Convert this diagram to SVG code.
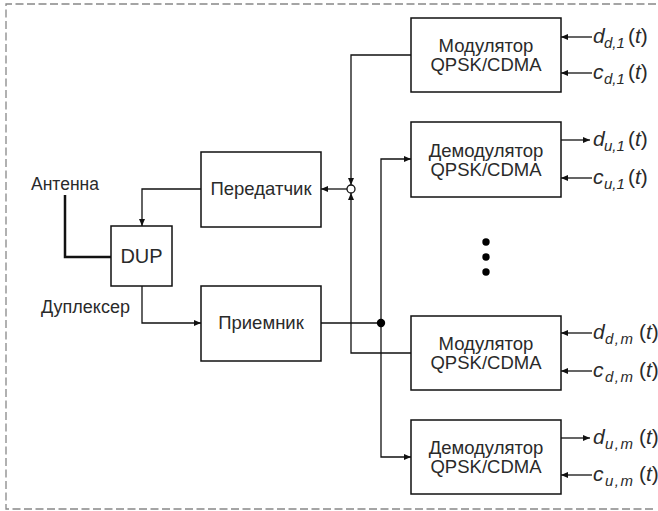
<svg xmlns="http://www.w3.org/2000/svg" width="658" height="511" viewBox="0 0 658 511">
<style>
.box{fill:#fff;stroke:#111;stroke-width:1.5}
.ln{fill:none;stroke:#111;stroke-width:1.3}
.ar{fill:none;stroke:#111;stroke-width:1.3;marker-end:url(#ah)}
.t{font-family:"Liberation Sans",Arial,sans-serif;font-size:18.5px;fill:#2a2a2a;text-anchor:middle}
.lb{font-family:"Liberation Sans",Arial,sans-serif;font-size:18px;fill:#2a2a2a}
.sig{font-family:"Liberation Sans",Arial,sans-serif;font-size:21px;fill:#2a2a2a;font-style:italic}
.sub{font-size:15px}
.up{font-style:normal}
</style>
<defs>
<marker id="ah" markerUnits="userSpaceOnUse" markerWidth="8" markerHeight="6" refX="7" refY="3" orient="auto">
<path d="M0,0 L7,3 L0,6 z" fill="#111"/>
</marker>
</defs>
<path d="M656,4 H6 V509 H656" fill="none" stroke="#888" stroke-width="1.3" stroke-dasharray="8,3.5"/>

<g id="antenna">
<text class="lb" x="31" y="190" style="font-size:17.5px">Антенна</text>
<path d="M65,195 V257 H111" fill="none" stroke="#111" stroke-width="2.5"/>
</g>
<g id="dup">
<rect class="box" x="111" y="226" width="61" height="60"/>
<text class="t" x="141.5" y="263" style="font-size:20px">DUP</text>
<text class="lb" x="41" y="313">Дуплексер</text>
</g>
<g id="tx">
<rect class="box" x="201" y="152" width="120" height="75"/>
<text class="t" x="261" y="195">Передатчик</text>
</g>
<g id="rx">
<rect class="box" x="201" y="286" width="120" height="75"/>
<text class="t" x="261" y="329">Приемник</text>
</g>
<g id="mod1">
<rect class="box" x="411" y="18" width="150" height="74"/>
<text class="t" x="486" y="52">Модулятор</text>
<text class="t" x="486" y="71">QPSK/CDMA</text>
</g>
<g id="demod1">
<rect class="box" x="411" y="122" width="150" height="75"/>
<text class="t" x="486" y="157">Демодулятор</text>
<text class="t" x="486" y="176">QPSK/CDMA</text>
</g>
<g id="modm">
<rect class="box" x="411" y="316" width="150" height="74"/>
<text class="t" x="486" y="350">Модулятор</text>
<text class="t" x="486" y="369">QPSK/CDMA</text>
</g>
<g id="demodm">
<rect class="box" x="411" y="420" width="150" height="74"/>
<text class="t" x="486" y="454">Демодулятор</text>
<text class="t" x="486" y="473">QPSK/CDMA</text>
</g>
<g id="ellipsis" fill="#000">
<circle cx="486" cy="242" r="3.7"/>
<circle cx="486" cy="257" r="3.7"/>
<circle cx="486" cy="272" r="3.7"/>
</g>

<g id="connectors">
<path class="ar" d="M201,189 H142 V226"/>
<path class="ar" d="M142,286 V323 H201"/>
<path class="ar" d="M347,189 H321"/>
<path class="ar" d="M411,55 H351 V185"/>
<path class="ar" d="M411,353 H351 V193"/>
<circle cx="351" cy="189" r="4" fill="#fff" stroke="#111" stroke-width="1.3"/>
<path class="ln" d="M321,323 H381"/>
<path class="ar" d="M381,323 V159 H411"/>
<path class="ar" d="M381,323 V457 H411"/>
<circle cx="381" cy="323" r="4.2" fill="#000"/>
<path class="ar" d="M592,37 H561"/>
<path class="ar" d="M592,73 H561"/>
<path class="ar" d="M561,140 H590"/>
<path class="ar" d="M592,178 H561"/>
<path class="ar" d="M592,333 H561"/>
<path class="ar" d="M592,371 H561"/>
<path class="ar" d="M561,438 H590"/>
<path class="ar" d="M592,475 H561"/>
</g>

<g id="labels">
<text class="sig" x="593" y="43">d<tspan class="sub" x="604" dy="5">d,1</tspan><tspan class="up" x="628" dy="-5">(</tspan>t<tspan class="up">)</tspan></text>
<text class="sig" x="593" y="79">c<tspan class="sub" x="604" dy="5">d,1</tspan><tspan class="up" x="628" dy="-5">(</tspan>t<tspan class="up">)</tspan></text>
<text class="sig" x="593" y="146">d<tspan class="sub" x="604" dy="5">u,1</tspan><tspan class="up" x="628" dy="-5">(</tspan>t<tspan class="up">)</tspan></text>
<text class="sig" x="593" y="184">c<tspan class="sub" x="604" dy="5">u,1</tspan><tspan class="up" x="628" dy="-5">(</tspan>t<tspan class="up">)</tspan></text>
<text class="sig" x="593" y="339">d<tspan class="sub" x="605" dy="5" letter-spacing="1.5">d,m</tspan><tspan class="up" x="639" dy="-5">(</tspan>t<tspan class="up">)</tspan></text>
<text class="sig" x="593" y="377">c<tspan class="sub" x="605" dy="5" letter-spacing="1.5">d,m</tspan><tspan class="up" x="639" dy="-5">(</tspan>t<tspan class="up">)</tspan></text>
<text class="sig" x="593" y="444">d<tspan class="sub" x="605" dy="5" letter-spacing="1.5">u,m</tspan><tspan class="up" x="639" dy="-5">(</tspan>t<tspan class="up">)</tspan></text>
<text class="sig" x="593" y="481">c<tspan class="sub" x="605" dy="5" letter-spacing="1.5">u,m</tspan><tspan class="up" x="639" dy="-5">(</tspan>t<tspan class="up">)</tspan></text>
</g>
</svg>
